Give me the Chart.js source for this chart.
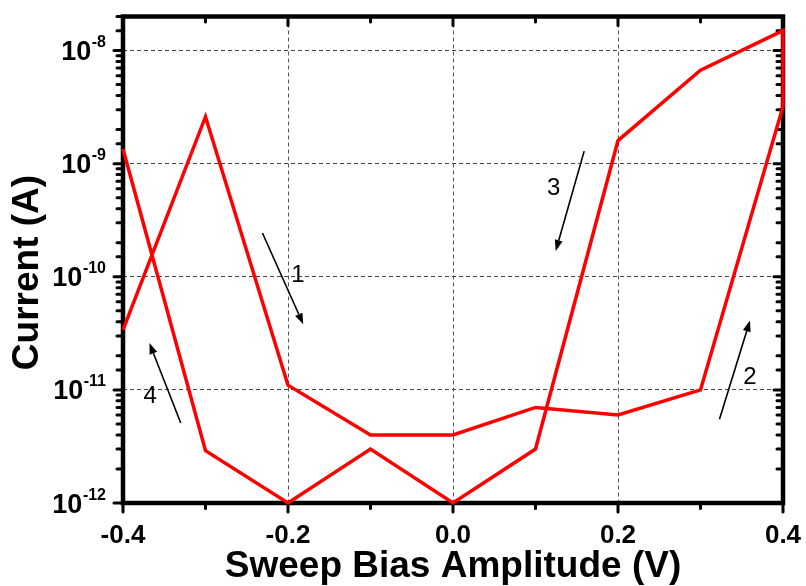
<!DOCTYPE html>
<html><head><meta charset="utf-8">
<script src="https://cdn.jsdelivr.net/npm/chart.js@4/dist/chart.umd.min.js"></script>
<style>html,body{margin:0;padding:0;background:#fff}#wrap{width:806px;height:586px}</style>
</head><body><div id="wrap"><canvas id="c" width="806" height="586"></canvas></div>
<script>
// ---- data ----
const forwardVoltage = [-0.4, -0.3, -0.2, -0.1, 0.0, 0.1, 0.2, 0.3, 0.4];
const forwardCurrent = [3.4e-11, 2.6e-9, 1.1e-11, 4e-12, 4e-12, 7e-12, 6e-12, 1e-11, 3.2e-9];
const reverseVoltage = [0.4, 0.3, 0.2, 0.1, 0.0, -0.1, -0.2, -0.3, -0.4];
const reverseCurrent = [1.5e-8, 6.7e-9, 1.6e-9, 3e-12, 1e-12, 3e-12, 1e-12, 2.9e-12, 1.35e-9];
const xTickLabels = ['-0.4', '-0.2', '0.0', '0.2', '0.4'];
const yDecades = [1e-12, 1e-11, 1e-10, 1e-9, 1e-8];
const yExponents = ['-12', '-11', '-10', '-9', '-8'];
const xTitle = 'Sweep Bias Amplitude (V)';
const yTitle = 'Current (A)';
// sweep-direction arrows (data coordinates)
const arrowLabels = ['1', '2', '3', '4'];
const arrowFrom = [[-0.231, 2.44e-10], [0.323, 5.5e-12], [0.159, 1.29e-9], [-0.330, 5.1e-12]];
const arrowTo   = [[-0.1815, 3.8e-11], [0.360, 4.1e-11], [0.1245, 1.69e-10], [-0.368, 2.6e-11]];
const arrowText = [[-0.188, 1.03e-10], [0.360, 1.3e-11], [0.122, 6.0e-10], [-0.367, 8.8e-12]];

const FONT = '"Liberation Sans", Arial, sans-serif';
const points = forwardVoltage.map((v, i) => ({x: v, y: forwardCurrent[i]}))
  .concat(reverseVoltage.map((v, i) => ({x: v, y: reverseCurrent[i]})));

const isDecade = v => { const l = Math.log10(v); return Math.abs(l - Math.round(l)) < 1e-6; };
const isMajorX = v => Math.abs(Math.round(v * 10)) % 2 === 0;

const decorPlugin = {
  id: 'decor',
  beforeDatasetsDraw(chart) {
    const {ctx, chartArea: a, scales: {x, y}} = chart;
    ctx.save();
    ctx.strokeStyle = '#000';
    ctx.lineWidth = 4.5; ctx.lineJoin = 'miter';
    ctx.strokeRect(a.left, a.top, a.right - a.left, a.bottom - a.top);
    ctx.lineWidth = 3; ctx.lineCap = 'round';
    const line = (x1, y1, x2, y2) => { ctx.beginPath(); ctx.moveTo(x1, y1); ctx.lineTo(x2, y2); ctx.stroke(); };
    y.ticks.forEach(t => {
      const py = y.getPixelForValue(t.value);
      const len = isDecade(t.value) ? 9 : 6;
      line(a.left, py, a.left - len, py);
      line(a.right, py, a.right - len, py);
    });
    x.ticks.forEach(t => {
      const px = x.getPixelForValue(t.value);
      const len = isMajorX(t.value) ? 9 : 5.5;
      line(px, a.bottom, px, a.bottom + len);
      line(px, a.top, px, a.top + len);
    });
    // y tick labels 10^n
    ctx.fillStyle = '#000';
    ctx.textBaseline = 'alphabetic';
    yDecades.forEach((v, i) => {
      const py = y.getPixelForValue(v);
      ctx.font = 'bold 16px ' + FONT;
      const sw = ctx.measureText(yExponents[i]).width;
      const sx = 106 - sw;
      ctx.textAlign = 'left';
      ctx.fillText(yExponents[i], sx, py - 3.5);
      ctx.font = 'bold 27px ' + FONT;
      ctx.textAlign = 'right';
      ctx.fillText('10', sx - 0.5, py + 9.5);
    });
    // axis titles
    ctx.font = 'bold 37px ' + FONT;
    ctx.textAlign = 'center';
    ctx.fillText(xTitle, (a.left + a.right) / 2, 577);
    ctx.save();
    ctx.translate(38, 272.5);
    ctx.rotate(-Math.PI / 2);
    ctx.fillText(yTitle, 0, 0);
    ctx.restore();
    ctx.restore();
  },
  afterDatasetsDraw(chart) {
    const {ctx, scales: {x, y}} = chart;
    ctx.save();
    ctx.strokeStyle = '#000'; ctx.fillStyle = '#000';
    ctx.lineWidth = 1.6;
    arrowLabels.forEach((lab, i) => {
      const x1 = x.getPixelForValue(arrowFrom[i][0]), y1 = y.getPixelForValue(arrowFrom[i][1]);
      const x2 = x.getPixelForValue(arrowTo[i][0]), y2 = y.getPixelForValue(arrowTo[i][1]);
      const ang = Math.atan2(y2 - y1, x2 - x1);
      const hl = 11, hw = 4;
      const bx = x2 - hl * Math.cos(ang), by = y2 - hl * Math.sin(ang);
      ctx.beginPath(); ctx.moveTo(x1, y1); ctx.lineTo(bx, by); ctx.stroke();
      ctx.beginPath();
      ctx.moveTo(x2, y2);
      ctx.lineTo(bx + hw * Math.sin(ang), by - hw * Math.cos(ang));
      ctx.lineTo(bx - hw * Math.sin(ang), by + hw * Math.cos(ang));
      ctx.closePath(); ctx.fill();
      ctx.font = '24px ' + FONT;
      ctx.textAlign = 'center'; ctx.textBaseline = 'middle';
      ctx.fillText(lab, x.getPixelForValue(arrowText[i][0]), y.getPixelForValue(arrowText[i][1]));
    });
    ctx.restore();
  }
};

new Chart(document.getElementById('c'), {
  type: 'scatter',
  data: {
    datasets: [{
      data: points,
      showLine: true,
      borderColor: '#ff0000',
      borderWidth: 3.5,
      pointRadius: 0,
      tension: 0,
      fill: false,
      clip: false
    }]
  },
  options: {
    responsive: false,
    animation: false,
    devicePixelRatio: 1,
    layout: {padding: {top: 16.5, right: 23, bottom: 0, left: 0}},
    plugins: {legend: {display: false}, tooltip: {enabled: false}},
    scales: {
      x: {
        type: 'linear', min: -0.4, max: 0.4,
        afterFit: s => { s.height = 83; s.paddingLeft = 0; s.paddingRight = 0; },
        ticks: {
          stepSize: 0.1, autoSkip: false, maxRotation: 0, padding: 17,
          color: '#000', font: {family: FONT, size: 26, weight: 'bold'},
          callback: v => isMajorX(v) ? xTickLabels[Math.round((v + 0.4) / 0.2)] : ''
        },
        grid: {
          drawTicks: false, lineWidth: 1,
          color: c => (c.tick && isMajorX(c.tick.value)) ? '#555' : 'rgba(0,0,0,0)'
        },
        border: {display: false, dash: [4, 3]}
      },
      y: {
        type: 'logarithmic', min: 1e-12, max: 2e-8,
        afterFit: s => { s.width = 123; s.paddingTop = 0; s.paddingBottom = 0; },
        ticks: {display: false},
        grid: {
          drawTicks: false, lineWidth: 1,
          color: c => (c.tick && isDecade(c.tick.value)) ? '#444' : 'rgba(0,0,0,0)'
        },
        border: {display: false, dash: [4, 3]}
      }
    }
  },
  plugins: [decorPlugin]
});
</script>
</body></html>
